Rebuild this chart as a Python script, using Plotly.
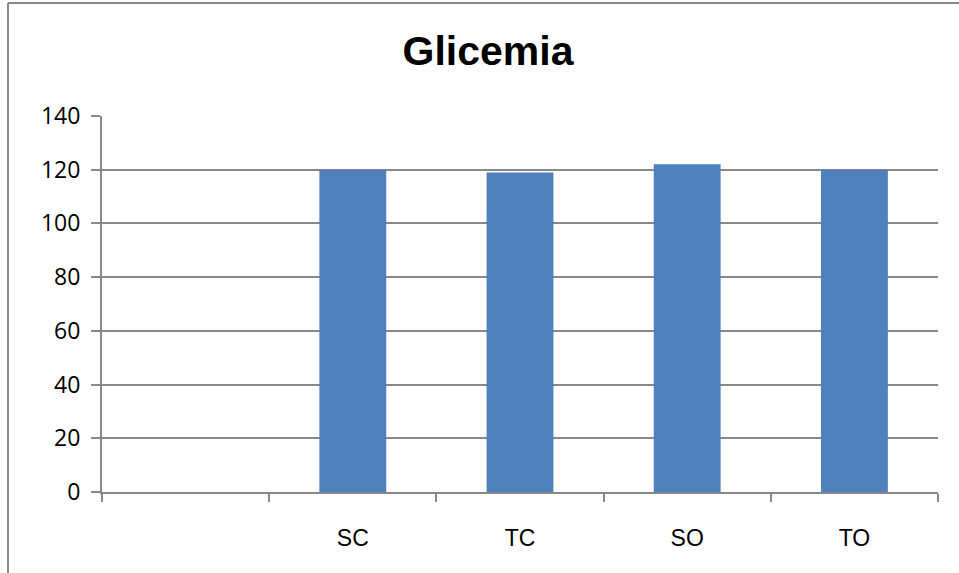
import plotly.graph_objects as go

categories = [" ", "SC", "TC", "SO", "TO"]
values = [None, 120, 119, 122, 120]
y_ticks = [0, 20, 40, 60, 80, 100, 120, 140]

W, H = 959, 573
L, R, T, B = 102, 21, 116, 81

SANS = "Liberation Sans, Arial, sans-serif"

fig = go.Figure(go.Bar(x=categories, y=values, marker=dict(color="#4f81bd", line=dict(width=0))))

pw = W - L - R
ph = H - T - B
fig.update_layout(
    width=W, height=H,
    margin=dict(l=L, r=R, t=T, b=B),
    paper_bgcolor="white", plot_bgcolor="white",
    bargap=0.6,
    showlegend=False,
    title=dict(text="<b>Glicemia</b>", x=488 / W, xref="container", xanchor="center",
               y=1 - 51 / H, yref="container", yanchor="middle",
               font=dict(family=SANS, size=41, color="black")),
    xaxis=dict(type="category", tickson="boundaries", ticks="outside", ticklen=8, tickwidth=2,
               tickcolor="#888888", showline=True, linecolor="#888888", linewidth=2,
               showgrid=False, ticklabelstandoff=24,
               tickfont=dict(family=SANS, size=23, color="black")),
    yaxis=dict(range=[0, 140], tickvals=y_ticks, ticks="outside", ticklen=9, tickwidth=2,
               tickcolor="#888888", showline=True, linecolor="#888888", linewidth=2,
               showgrid=True, gridcolor="#888888", gridwidth=2, zeroline=False,
               ticklabelstandoff=6,
               tickfont=dict(family="Open Sans, Noto Sans, sans-serif", size=23, color="black")),
    shapes=[
        dict(type="line", xref="paper", yref="paper", x0=(8 - L) / pw, x1=(8 - L) / pw,
             y0=-1.0, y1=(H - B - 3) / ph, line=dict(color="#888888", width=2)),
        dict(type="line", xref="paper", yref="paper", x0=(8 - L) / pw, x1=(W + 20 - L) / pw,
             y0=(H - B - 3) / ph, y1=(H - B - 3) / ph, line=dict(color="#888888", width=2)),
    ],
)

fig.write_html("out.html", config={"displayModeBar": False},
               post_script="document.body.style.margin='0';document.body.style.overflow='hidden';")
